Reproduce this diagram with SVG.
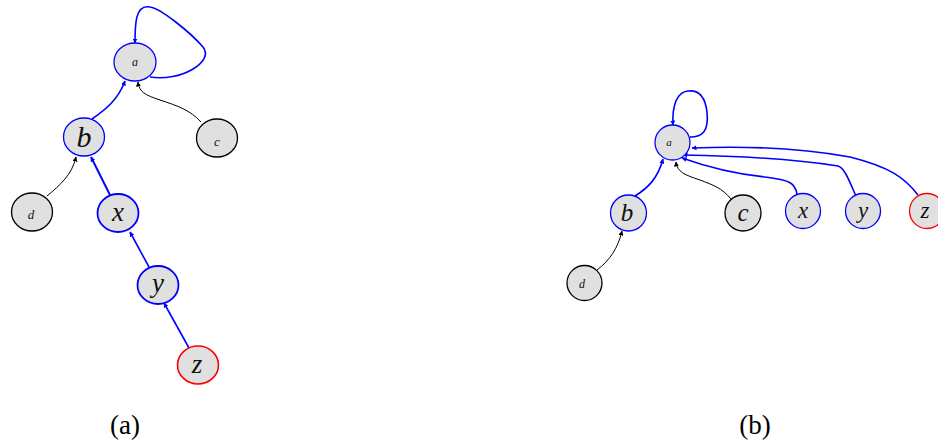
<svg xmlns="http://www.w3.org/2000/svg" width="938" height="442" viewBox="0 0 938 442">
<defs>
<marker id="ab" viewBox="0 0 10 10" refX="9" refY="5" markerWidth="5" markerHeight="5" orient="auto-start-reverse" markerUnits="userSpaceOnUse"><path d="M0,0 L10,5 L0,10 z" fill="#0000ff"/></marker>
<marker id="ak" viewBox="0 0 10 10" refX="9" refY="5" markerWidth="5" markerHeight="5" orient="auto-start-reverse" markerUnits="userSpaceOnUse"><path d="M0,0 L10,5 L0,10 z" fill="#000"/></marker>
<style>
.n{fill:#e0e0e0;stroke-width:1.3}
.k{stroke:#000}
.b{stroke:#0000ff}
.r{stroke:#ff0000}
.t{font-family:"Liberation Serif","DejaVu Serif",serif;font-style:italic;text-anchor:middle;fill:#111}
.cap{font-family:"Liberation Serif","DejaVu Serif",serif;font-size:27px;text-anchor:middle;fill:#000}
.eb{fill:none;stroke:#0000ff;stroke-width:1.6;marker-end:url(#ab)}
.ek{fill:none;stroke:#000;stroke-width:1;marker-end:url(#ak)}
</style>
</defs>
<g id="connectors">
<path class="eb" d="M150,77 C180,82 215,62 203,47 C190,32 160,8 150,7 C135,4 135,25 135,43"/>
<path class="eb" d="M92,119 C105,110 118,100 125,81"/>
<path class="ek" d="M201,122 C190,110 178,106 160,100 C145,95 139,92 138,82"/>
<path class="ek" d="M47,196 C60,185 72,175 76,157"/>
<path class="eb" style="stroke-width:2" d="M110,195 L91,157"/>
<path class="eb" d="M149,267 L130,232"/>
<path class="eb" d="M189,348 L164,303"/>
<path class="eb" d="M690,137 C702,137 709,132 707,112 C705,95 697,90 688,91 C677,92 672,105 673,125"/>
<path class="eb" d="M635,196 C648,188 658,178 663,159"/>
<path class="ek" d="M731,199 C722,188 713,185 700,180 C685,175 677,172 676,162"/>
<path class="eb" d="M797,194 C795,183 790,180 765,177 C735,174 710,168 682,158"/>
<path class="eb" d="M856,196 C850,183 845,168 838,166 C800,160 740,156 683,155"/>
<path class="eb" d="M918,195 C905,178 890,167 850,157 C800,148 740,146 692,148"/>
<path class="ek" d="M597,270 C610,260 618,248 622,231"/>
</g>
<g id="a1"><ellipse class="n b" cx="135" cy="62" rx="21" ry="19"/><text class="t" x="135" y="66" font-size="12">a</text></g>
<g id="b1"><ellipse class="n b" cx="84" cy="137" rx="20.5" ry="19"/><text class="t" x="84" y="147" font-size="30">b</text></g>
<g id="c1"><ellipse class="n k" cx="217" cy="138" rx="20.5" ry="19"/><text class="t" x="217" y="146" font-size="13">c</text></g>
<g id="d1"><ellipse class="n k" cx="32" cy="212" rx="20.5" ry="19"/><text class="t" x="31" y="219" font-size="13">d</text></g>
<g id="x1"><ellipse class="n b" cx="118" cy="213" rx="20.5" ry="19" style="stroke-width:1.8"/><text class="t" x="118" y="221" font-size="27">x</text></g>
<g id="y1"><ellipse class="n b" cx="158" cy="285" rx="20.5" ry="19" style="stroke-width:1.8"/><text class="t" x="158" y="292" font-size="27">y</text></g>
<g id="z1"><ellipse class="n r" cx="198" cy="365" rx="20.5" ry="19" style="stroke-width:1.6"/><text class="t" x="197" y="373" font-size="27">z</text></g>
<g id="a2"><circle class="n b" cx="672.5" cy="142.5" r="17.5"/><text class="t" x="669" y="146" font-size="11">a</text></g>
<g id="b2"><circle class="n b" cx="628.5" cy="213" r="18"/><text class="t" x="627" y="221" font-size="25">b</text></g>
<g id="c2"><circle class="n k" cx="743" cy="213" r="18"/><text class="t" x="743" y="221" font-size="25">c</text></g>
<g id="x2"><circle class="n b" cx="803" cy="211" r="17.5"/><text class="t" x="803" y="218" font-size="23">x</text></g>
<g id="y2"><circle class="n b" cx="863" cy="211" r="17.5"/><text class="t" x="863" y="218" font-size="23">y</text></g>
<g id="z2"><circle class="n r" cx="927" cy="211" r="17.5"/><text class="t" x="925" y="218" font-size="23">z</text></g>
<g id="d2"><circle class="n k" cx="584.5" cy="283" r="17.5"/><text class="t" x="582" y="288" font-size="12">d</text></g>
<text class="cap" x="125" y="434">(a)</text>
<text class="cap" x="755" y="434">(b)</text>
</svg>
